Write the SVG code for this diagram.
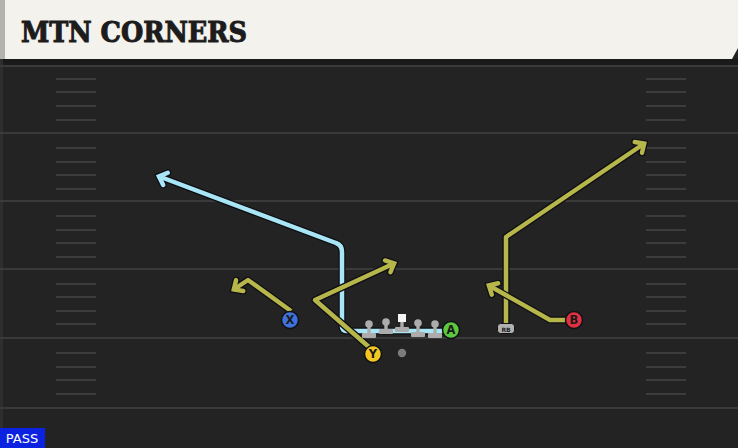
<svg xmlns="http://www.w3.org/2000/svg" width="738" height="448" viewBox="0 0 738 448">
<style>
.yl{stroke:#3a3a3a;stroke-width:2}
.hm{stroke:#3c3c3c;stroke-width:2}
.out{fill:none;stroke:#0e0e14;stroke-width:7;stroke-linejoin:round}
.yel{fill:none;stroke:#b6b64a;stroke-width:4.5;stroke-linejoin:round}
.blu{fill:none;stroke:#a8e6f6;stroke-width:4.5;stroke-linejoin:round}
.pl circle,.pl .bd{fill:#acacac}
.lbl{font-family:"DejaVu Sans",sans-serif;font-weight:bold;font-size:11.5px;fill:#1a1a1a;text-anchor:middle}
</style>
<defs>
<marker id="aO" markerUnits="userSpaceOnUse" markerWidth="24" markerHeight="24" viewBox="-12 -12 24 24" refX="0" refY="0" orient="auto" overflow="visible">
<path d="M-8,-6.5 L-1,0 L-8,6.5" fill="none" stroke="#0e0e14" stroke-width="7" stroke-linejoin="miter" stroke-linecap="round"/>
</marker>
<marker id="aY" markerUnits="userSpaceOnUse" markerWidth="24" markerHeight="24" viewBox="-12 -12 24 24" refX="0" refY="0" orient="auto" overflow="visible">
<path d="M-8,-6.5 L-1,0 L-8,6.5" fill="none" stroke="#b6b64a" stroke-width="4.5" stroke-linejoin="miter" stroke-linecap="round"/>
</marker>
<marker id="aB" markerUnits="userSpaceOnUse" markerWidth="24" markerHeight="24" viewBox="-12 -12 24 24" refX="0" refY="0" orient="auto" overflow="visible">
<path d="M-8,-6.5 L-1,0 L-8,6.5" fill="none" stroke="#a8e6f6" stroke-width="4.5" stroke-linejoin="miter" stroke-linecap="round"/>
</marker>
</defs>
<!-- field -->
<rect x="0" y="0" width="738" height="448" fill="#232323"/>
<rect x="0" y="59" width="738" height="6" fill="#1a1a1a"/>
<rect x="0" y="59" width="3" height="389" fill="#2e2e2e"/>
<g id="field">
<line class="yl" x1="0" y1="66" x2="738" y2="66"/>
<line class="yl" x1="0" y1="133" x2="738" y2="133"/>
<line class="yl" x1="0" y1="201" x2="738" y2="201"/>
<line class="yl" x1="0" y1="269" x2="738" y2="269"/>
<line class="yl" x1="0" y1="338" x2="738" y2="338"/>
<line class="yl" x1="0" y1="408" x2="738" y2="408"/>
<g id="hashL">
<line class="hm" x1="56" y1="79" x2="96" y2="79"/><line class="hm" x1="56" y1="92" x2="96" y2="92"/><line class="hm" x1="56" y1="106" x2="96" y2="106"/><line class="hm" x1="56" y1="120" x2="96" y2="120"/>
<line class="hm" x1="56" y1="148" x2="96" y2="148"/><line class="hm" x1="56" y1="162" x2="96" y2="162"/><line class="hm" x1="56" y1="175" x2="96" y2="175"/><line class="hm" x1="56" y1="189" x2="96" y2="189"/>
<line class="hm" x1="56" y1="216" x2="96" y2="216"/><line class="hm" x1="56" y1="230" x2="96" y2="230"/><line class="hm" x1="56" y1="243" x2="96" y2="243"/><line class="hm" x1="56" y1="257" x2="96" y2="257"/>
<line class="hm" x1="56" y1="284" x2="96" y2="284"/><line class="hm" x1="56" y1="297" x2="96" y2="297"/><line class="hm" x1="56" y1="311" x2="96" y2="311"/><line class="hm" x1="56" y1="324" x2="96" y2="324"/>
<line class="hm" x1="56" y1="353" x2="96" y2="353"/><line class="hm" x1="56" y1="367" x2="96" y2="367"/><line class="hm" x1="56" y1="380" x2="96" y2="380"/><line class="hm" x1="56" y1="394" x2="96" y2="394"/>
</g>
<use href="#hashL" x="590"/>
</g>
<!-- header -->
<g id="header">
<path d="M0,0 H738 V48 L732,59 H0 Z" fill="#f4f2ec"/>
<rect x="0" y="0" width="5" height="59" fill="#b4b4ac"/>
<text x="21" y="42" font-family="'DejaVu Serif',serif" font-weight="bold" font-size="27" fill="#1c1c1c" stroke="#1c1c1c" stroke-width="1" textLength="226" lengthAdjust="spacingAndGlyphs">MTN CORNERS</text>
</g>
<!-- connectors -->
<g id="connectors">
<path class="out" d="M445,331 H346 A4,4 0 0 1 342,327 V252 Q342,245 336,243 L158,176" marker-end="url(#aO)"/>
<path class="blu" d="M445,331 H346 A4,4 0 0 1 342,327 V252 Q342,245 336,243 L158,176" marker-end="url(#aB)"/>
<path class="out" d="M291,311 L248,280 L233,290" marker-end="url(#aO)"/>
<path class="yel" d="M291,311 L248,280 L233,290" marker-end="url(#aY)"/>
<path class="out" d="M369,347 L315,300 L395,263" marker-end="url(#aO)"/>
<path class="yel" d="M369,347 L315,300 L395,263" marker-end="url(#aY)"/>
<path class="out" d="M506,325 V237 L645,143" marker-end="url(#aO)"/>
<path class="yel" d="M506,325 V237 L645,143" marker-end="url(#aY)"/>
<path class="out" d="M566,320 H550 L488,285" marker-end="url(#aO)"/>
<path class="yel" d="M566,320 H550 L488,285" marker-end="url(#aY)"/>
</g>
<!-- linemen -->
<g id="ol1" class="pl"><circle cx="369" cy="324" r="3.8"/><rect class="bd" x="367.3" y="326" width="3.4" height="8"/><rect class="bd" x="362" y="333" width="14" height="5" rx="1"/></g>
<g id="ol2" class="pl"><circle cx="386" cy="322" r="3.8"/><rect class="bd" x="384.3" y="324" width="3.4" height="6"/><rect class="bd" x="379" y="329" width="14" height="5" rx="1"/></g>
<g id="center" class="pl"><rect x="398" y="314" width="8" height="8" fill="#f4f4f4"/><rect class="bd" x="400.3" y="322" width="3.4" height="6"/><rect class="bd" x="395" y="327" width="14" height="5" rx="1"/></g>
<g id="ol4" class="pl"><circle cx="418" cy="323" r="3.8"/><rect class="bd" x="416.3" y="325" width="3.4" height="8"/><rect class="bd" x="411" y="332" width="14" height="5" rx="1"/></g>
<g id="ol5" class="pl"><circle cx="435" cy="324" r="3.8"/><rect class="bd" x="433.3" y="326" width="3.4" height="8"/><rect class="bd" x="428" y="333" width="14" height="5" rx="1"/></g>
<!-- skill players -->
<g id="qb"><circle cx="402" cy="353" r="4.2" fill="#7c7c7c"/></g>
<g id="rb"><rect x="497.5" y="323.5" width="17" height="10" rx="3" fill="#b0b0b0" stroke="#111" stroke-width="1"/><text x="506" y="331.5" font-family="'DejaVu Sans',sans-serif" font-weight="bold" font-size="6" fill="#222" text-anchor="middle">RB</text></g>
<g id="X"><circle cx="290" cy="320" r="8.5" fill="#3f72dc" stroke="#101018" stroke-width="1.5"/><text class="lbl" x="290" y="324">X</text></g>
<g id="Y"><circle cx="373" cy="354" r="8.5" fill="#f2c820" stroke="#101018" stroke-width="1.5"/><text class="lbl" x="373" y="358">Y</text></g>
<g id="A"><circle cx="451" cy="330" r="8.5" fill="#5cc83c" stroke="#101018" stroke-width="1.5"/><text class="lbl" x="451" y="334">A</text></g>
<g id="B"><circle cx="574" cy="320" r="8.5" fill="#e23040" stroke="#101018" stroke-width="1.5"/><text class="lbl" x="574" y="324">B</text></g>
<!-- badge -->
<g id="pass"><rect x="0" y="428" width="45" height="20" fill="#0b22e0"/><text x="22" y="443" font-family="'DejaVu Sans',sans-serif" font-size="13" fill="#ffffff" text-anchor="middle">PASS</text></g>
</svg>
